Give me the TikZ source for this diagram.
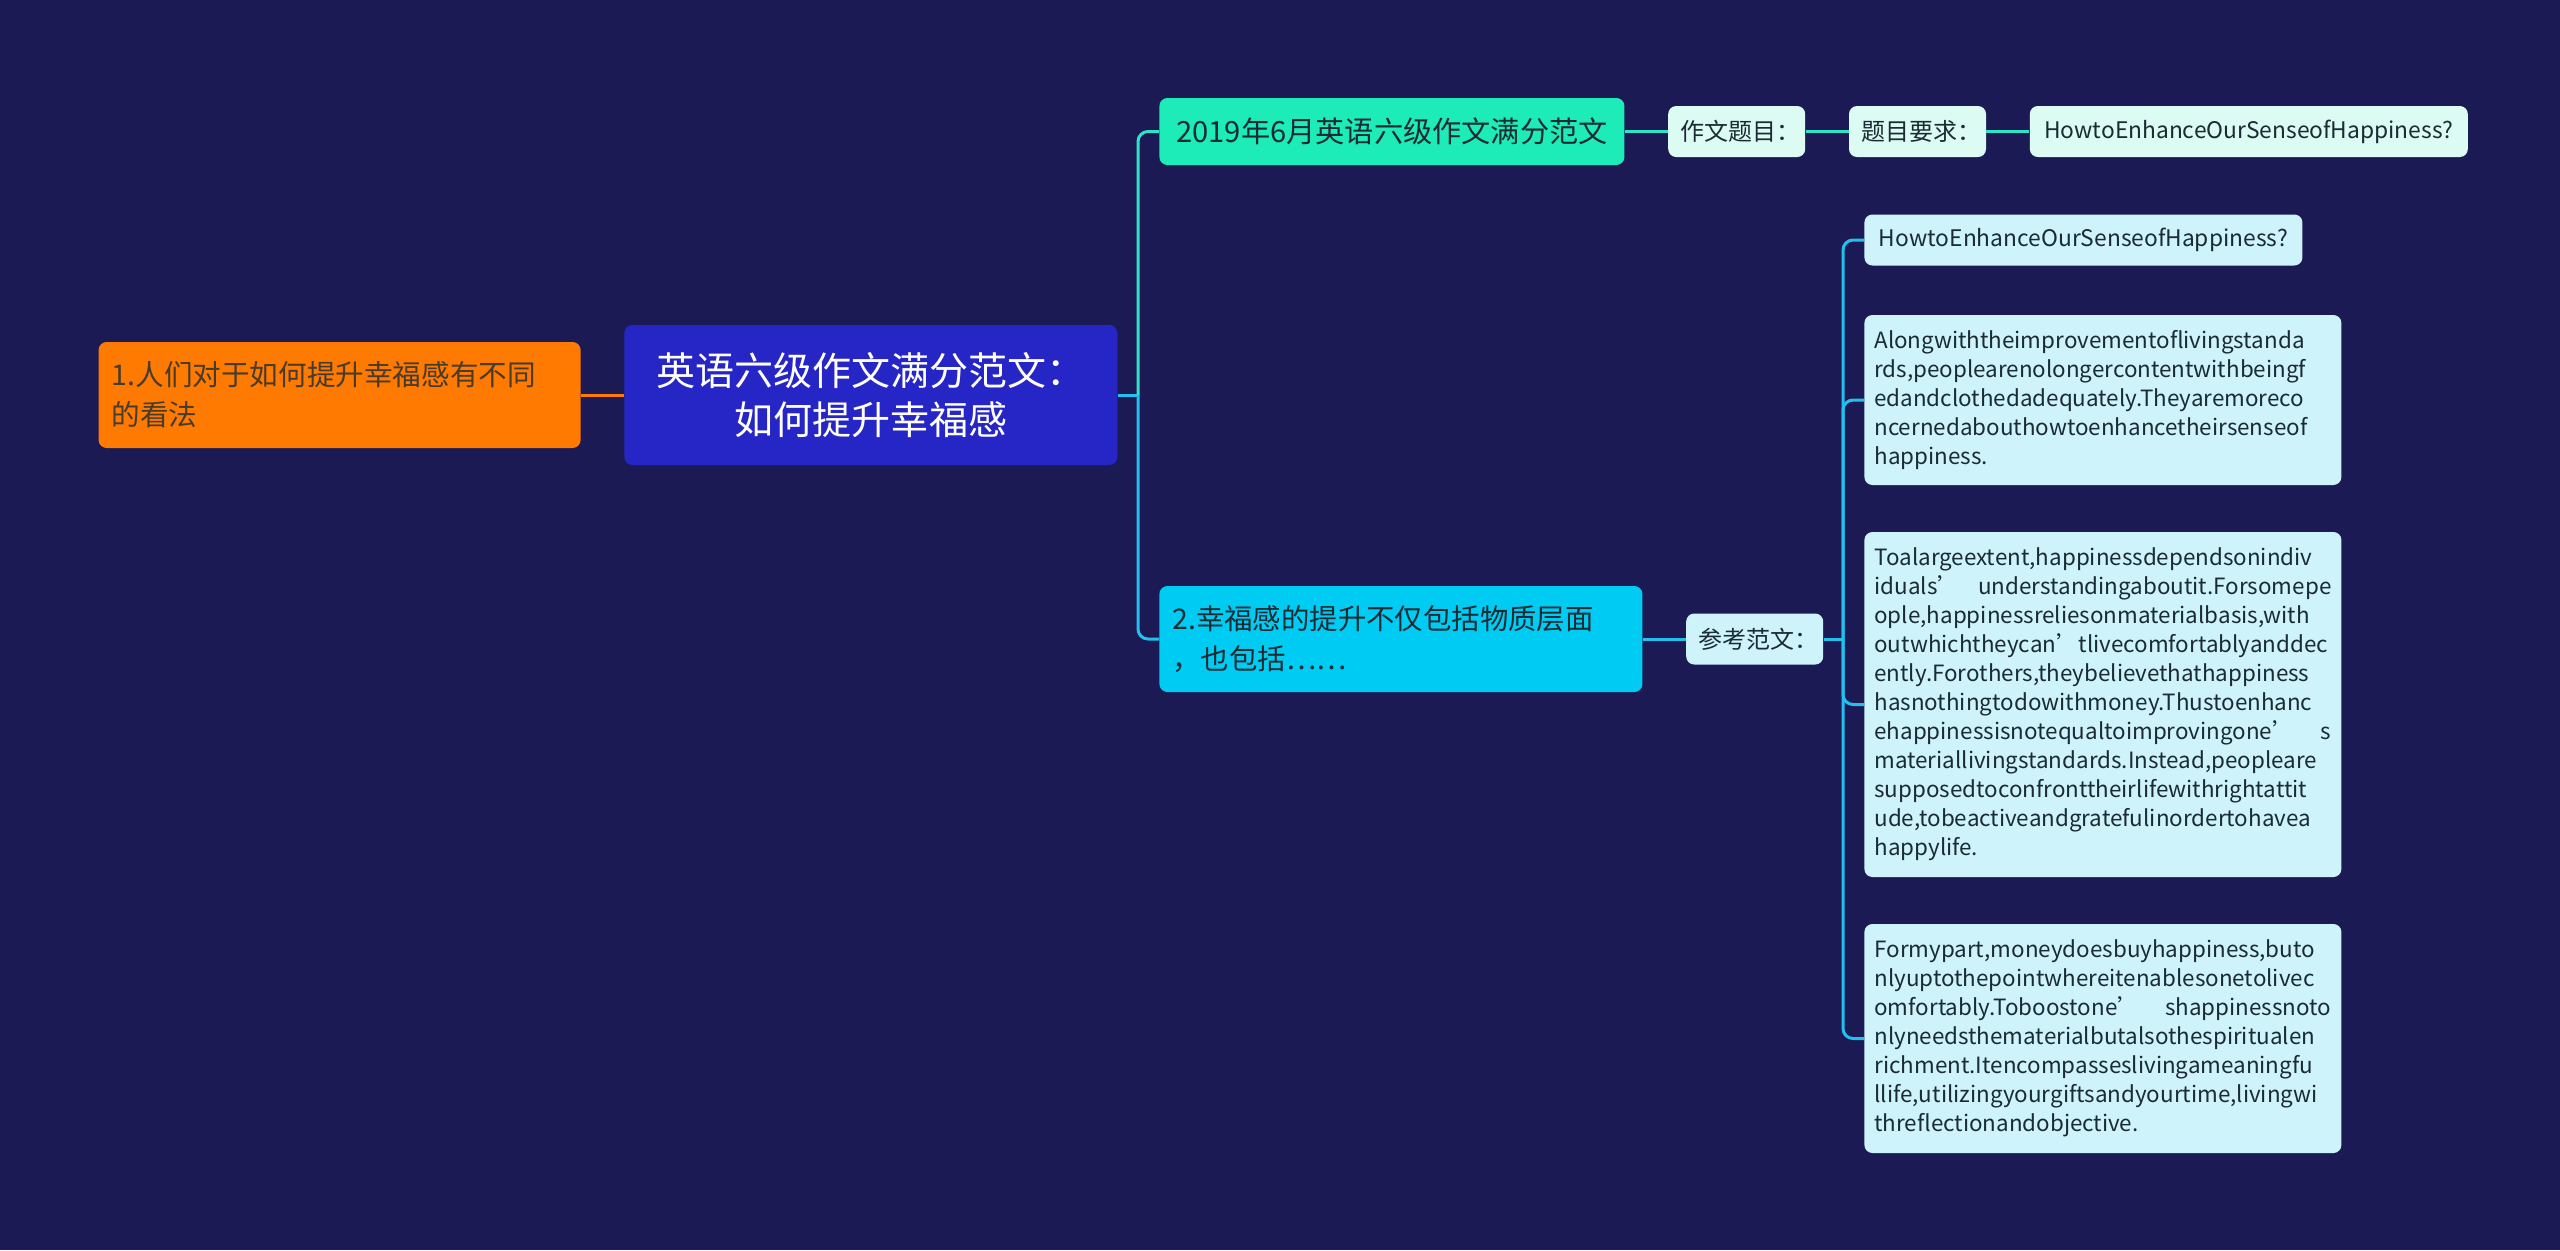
\documentclass[tikz,border=0pt]{standalone}
\usepackage{fontspec}
\setmainfont{Noto Sans CJK SC}
\usetikzlibrary{positioning}
\definecolor{mmBack}{HTML}{1B1A55}
\definecolor{mmRoot}{HTML}{2626C6}
\definecolor{mmOrange}{HTML}{FF7A00}
\definecolor{mmTeal}{HTML}{1DEBB8}
\definecolor{mmCyan}{HTML}{00CBF2}
\definecolor{mmMint}{HTML}{DCFBF3}
\definecolor{mmIce}{HTML}{CFF3FB}
\definecolor{mmInk}{HTML}{1A2B33}
\definecolor{mmTealLine}{HTML}{2FE3C6}
\definecolor{mmCyanLine}{HTML}{22BFEF}
\newcommand{\apos}{{\char"27}}
\hyphenpenalty=10000
\exhyphenpenalty=10000
\tikzset{
  mmnode/.style={rounded corners=4pt, inner xsep=6.5pt, inner ysep=0pt, text=mmInk, anchor=west},
  rootnode/.style={mmnode, fill=mmRoot, text=white, minimum width=246.5pt, minimum height=70pt,
    align=center, font=\fontsize{19.5pt}{24.5pt}\selectfont},
  viewnode/.style={mmnode, fill=mmOrange, text=mmInk!80!mmOrange, text width=228pt, minimum height=53pt,
    align=left, font=\fontsize{14.3pt}{20pt}\selectfont},
  titlenode/.style={mmnode, fill=mmTeal, inner xsep=5pt, minimum width=232.5pt, minimum height=33.5pt,
    font=\fontsize{14.6pt}{18pt}\selectfont},
  pointnode/.style={mmnode, fill=mmCyan, text width=228.5pt, minimum height=53pt,
    align=left, font=\fontsize{14.2pt}{20pt}\selectfont},
  tagnode/.style={mmnode, fill=mmMint, inner xsep=6.25pt, text width=56pt, align=left,
    minimum height=25.5pt, font=\fontsize{12pt}{14pt}\selectfont},
  asknode/.style={mmnode, fill=mmMint, inner xsep=5pt, minimum width=219pt, minimum height=25.5pt,
    font=\fontsize{11.4pt}{14pt}\selectfont},
  samplenode/.style={tagnode, fill=mmIce},
  paranode/.style={mmnode, fill=mmIce, inner xsep=5pt, text width=228.5pt, align=left,
    font=\fontsize{11.2pt}{14.5pt}\selectfont},
  tealline/.style={line width=1.5pt, mmTealLine},
  cyanline/.style={line width=1.5pt, mmCyanLine},
  orangeline/.style={line width=1.5pt, mmOrange}
}
\begin{document}
\begin{tikzpicture}[x=0.5pt, y=-0.5pt, node distance=21.5pt]
  \fill[mmBack] (0,0) rectangle (2560,1250);

  % root and left topic
  \node[rootnode] (root) at (624,395) {英语六级作文满分范文：\\如何提升幸福感};
  \node[viewnode, left=of root] (view) {1.人们对于如何提升幸福感有不同\\的看法};

  % right topics
  \node[titlenode] (title) at (1159,131.5) {2019年6月英语六级作文满分范文};
  \node[pointnode] (point) at (1159,639) {2.幸福感的提升不仅包括物质层面\\，也包括……};
  \node[tagnode, right=of title] (topic) {作文题目：};
  \node[tagnode, right=of topic] (demand) {题目要求：};
  \node[asknode, right=of demand] (question) {HowtoEnhanceOurSenseofHappiness?};
  \node[samplenode, right=of point] (sample) {参考范文：};

  % sample essay
  \node[asknode, fill=mmIce] (s1) at (1864,240) {HowtoEnhanceOurSenseofHappiness?};
  \node[paranode, minimum height=85pt] (s2) at (1864,400) {Alongwiththeimprovementoflivingstanda\\
    rds,peoplearenolongercontentwithbeingf\\
    edandclothedadequately.Theyaremoreco\\
    ncernedabouthowtoenhancetheirsenseof\\
    happiness.};
  \node[paranode, minimum height=172.5pt] (s3) at (1864,704.5) {Toalargeextent,happinessdependsonindiv\\
    iduals’\hfill understandingaboutit.Forsomepe\\
    ople,happinessreliesonmaterialbasis,with\\
    outwhichtheycan\apos tlivecomfortablyanddec\\
    ently.Forothers,theybelievethathappiness\\
    hasnothingtodowithmoney.Thustoenhanc\\
    ehappinessisnotequaltoimprovingone’\hfill s\\
    materiallivingstandards.Instead,peopleare\\
    supposedtoconfronttheirlifewithrightattit\\
    ude,tobeactiveandgratefulinordertohavea\\
    happylife.};
  \node[paranode, minimum height=114.5pt] (s4) at (1864,1038.5) {Formypart,moneydoesbuyhappiness,buto\\
    nlyuptothepointwhereitenablesonetolivec\\
    omfortably.Toboostone’\hfill shappinessnoto\\
    nlyneedsthematerialbutalsothespiritualen\\
    richment.Itencompasseslivingameaningfu\\
    llife,utilizingyourgiftsandyourtime,livingwi\\
    threflectionandobjective.};

  \coordinate (hub) at (1138,395);
  \coordinate (fork) at (1843,639);

  \draw[orangeline] (view) -- (root);
  \draw[cyanline] (root.east) -- (hub);
  \draw[tealline, rounded corners=5pt] (hub) |- (title);
  \draw[cyanline, rounded corners=5pt] (hub) |- (point);
  \draw[tealline] (title) -- (topic);
  \draw[tealline] (topic) -- (demand);
  \draw[tealline] (demand) -- (question);
  \draw[cyanline] (point) -- (sample);
  \draw[cyanline] (sample) -- (fork);
  \foreach \s in {s1,s2,s3,s4}
    \draw[cyanline, rounded corners=5pt] (fork) |- (\s);
\end{tikzpicture}
\end{document}
